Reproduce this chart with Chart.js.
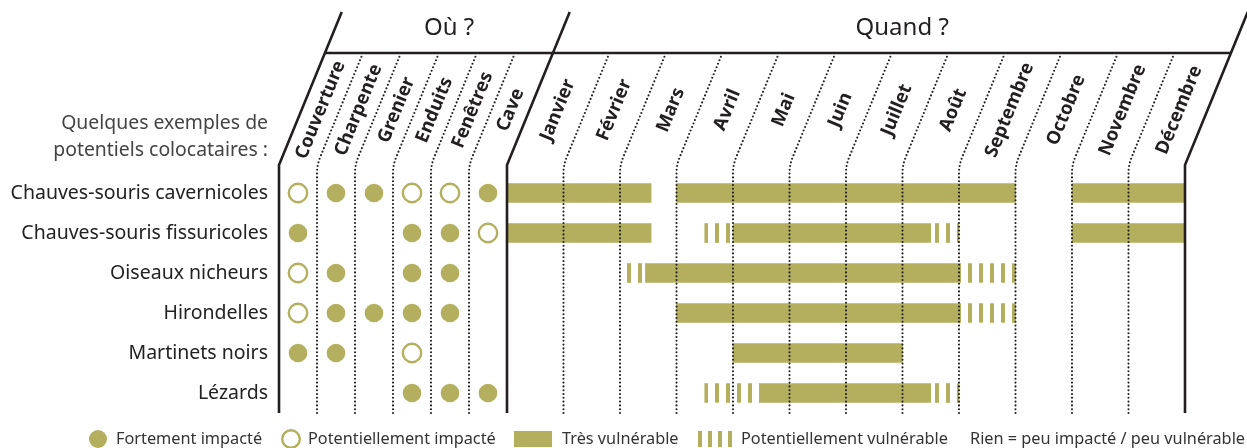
<!DOCTYPE html>
<html lang="fr">
<head>
  <meta charset="UTF-8">
  <title>Colocataires</title>
  <style>
    body { margin: 0; padding: 0; background: #fff; }
    .wrap { width: 1247px; height: 448px; position: relative; }
  </style>
</head>
<body>
  <div class="wrap"><canvas id="chart"></canvas></div>

  <script src="https://cdn.jsdelivr.net/npm/chart.js"></script>
  <script>
    // Data
    const species = ['Chauves-souris cavernicoles', 'Chauves-souris fissuricoles', 'Oiseaux nicheurs',
      'Hirondelles', 'Martinets noirs', 'Lézards'];
    const places = ['Couverture', 'Charpente', 'Grenier', 'Enduits', 'Fenêtres', 'Cave'];
    const months = ['Janvier', 'Février', 'Mars', 'Avril', 'Mai', 'Juin', 'Juillet', 'Août',
      'Septembre', 'Octobre', 'Novembre', 'Décembre'];

    // 2 = fortement impacté, 1 = potentiellement impacté, 0 = rien (one row per species)
    const impacts = [
      [1, 2, 2, 1, 1, 2],
      [2, 0, 0, 2, 2, 1],
      [1, 2, 0, 2, 2, 0],
      [1, 2, 2, 2, 2, 0],
      [2, 2, 0, 1, 0, 0],
      [0, 0, 0, 2, 2, 2]
    ];

    // periods in months (0 = start of January, 12 = end of December)
    const veryVulnerable = [
      [[0, 2.55], [3, 9], [10, 12]],
      [[0, 2.55], [4, 7.5], [10, 12]],
      [[2.45, 8]],
      [[3, 8]],
      [[4, 7]],
      [[4.47, 7.5]]
    ];
    const maybeVulnerable = [
      [],
      [[3.5, 4], [7.5, 8]],
      [[2, 2.45], [8, 9]],
      [[8, 9]],
      [],
      [[3.5, 4.47], [7.5, 8]]
    ];

    const legendLabels = ['Fortement impacté', 'Potentiellement impacté', 'Très vulnérable',
      'Potentiellement vulnérable', 'Rien = peu impacté / peu vulnérable'];

    // Look
    const OLIVE = '#b3af5e';
    const INK = '#231f20';
    const FONT = '"Noto Sans", sans-serif';
    const K = 0.41;          // slope of the header slants (dx per dy)
    const SLANT_Y = 165;     // where the vertical lines start to lean
    const TOP_Y = 12;
    const HEAD_Y = 53;
    const COL_W = 38, MONTH_W = 56.5;

    // stripes for "potentiellement vulnérable"
    function stripes() {
      const c = document.createElement('canvas');
      c.width = 11; c.height = 4;
      const g = c.getContext('2d');
      g.fillStyle = OLIVE;
      g.fillRect(0, 0, 4, 4);
      return g.createPattern(c, 'repeat');
    }

    const areaW = COL_W * places.length + MONTH_W * months.length;
    const whereMax = -0.5 + areaW / COL_W;
    const whenMin = -(COL_W * places.length) / MONTH_W;

    const strongData = veryVulnerable.flatMap((spans, i) => spans.map(s => ({ x: s, y: species[i] })));
    const maybeData = maybeVulnerable.flatMap((spans, i) => spans.map(s => ({ x: s, y: species[i] })));
    const fullDots = [], openDots = [];
    impacts.forEach((row, i) => row.forEach((v, j) => {
      if (v === 2) fullDots.push({ x: j, y: species[i] });
      if (v === 1) openDots.push({ x: j, y: species[i] });
    }));

    // grid, headers and legend
    const framePlugin = {
      id: 'frame',
      afterDatasetsDraw(chart) {
        const ctx = chart.ctx;
        const area = chart.chartArea;
        const xw = chart.scales.xWhere, xm = chart.scales.xWhen;
        const bottom = area.bottom;
        const placeEdges = places.map((p, j) => xw.getPixelForValue(j - 0.5)).concat(xw.getPixelForValue(places.length - 0.5));
        const monthEdges = months.map((m, k) => xm.getPixelForValue(k)).concat(xm.getPixelForValue(12));
        const lean = y => K * (SLANT_Y - y);

        ctx.save();
        // dotted separators (round dots)
        ctx.strokeStyle = INK;
        ctx.lineWidth = 2.1;
        ctx.lineCap = 'round';
        ctx.setLineDash([0, 3.8]);
        const inner = placeEdges.slice(1, -1).concat(monthEdges.slice(1, -1));
        inner.forEach(x => {
          ctx.beginPath();
          ctx.moveTo(x, bottom);
          ctx.lineTo(x, SLANT_Y + 8);
          ctx.quadraticCurveTo(x, SLANT_Y, x + lean(SLANT_Y - 8), SLANT_Y - 8);
          ctx.lineTo(x + lean(HEAD_Y + 3), HEAD_Y + 3);
          ctx.stroke();
        });
        ctx.setLineDash([]);
        ctx.lineCap = 'butt';

        // solid borders
        ctx.lineWidth = 2.6;
        const borders = [placeEdges[0], monthEdges[0], monthEdges[12]];
        borders.forEach(x => {
          ctx.beginPath();
          ctx.moveTo(x, bottom);
          ctx.lineTo(x, SLANT_Y);
          ctx.lineTo(x + lean(TOP_Y), TOP_Y);
          ctx.stroke();
        });
        ctx.beginPath();
        ctx.moveTo(borders[0] + lean(HEAD_Y), HEAD_Y);
        ctx.lineTo(borders[2] + lean(HEAD_Y), HEAD_Y);
        ctx.stroke();

        // section titles
        ctx.fillStyle = INK;
        ctx.font = '24px ' + FONT;
        ctx.textAlign = 'center';
        ctx.textBaseline = 'middle';
        ctx.fillText('Où ?', (borders[0] + borders[1]) / 2 + lean(28), 28);
        ctx.fillText('Quand ?', (borders[1] + borders[2]) / 2 + lean(28), 28);

        // rotated column labels
        const angle = Math.atan2(-1, K);
        const CY = 110;
        ctx.font = 'bold 18.5px ' + FONT;
        const colLabel = (text, xl, xr) => {
          ctx.save();
          ctx.translate((xl + xr) / 2 + lean(CY), CY);
          ctx.rotate(angle);
          ctx.fillText(text, 0, 0);
          ctx.restore();
        };
        places.forEach((p, j) => colLabel(p, placeEdges[j], placeEdges[j + 1]));
        months.forEach((m, k) => colLabel(m, monthEdges[k], monthEdges[k + 1]));

        // intro text above the species
        ctx.font = '19.4px ' + FONT;
        ctx.fillStyle = '#444';
        ctx.textAlign = 'right';
        ctx.fillText('Quelques exemples de', 268, 123);
        ctx.fillText('potentiels colocataires :', 268, 150);

        // legend
        const ly = 439;
        ctx.font = '16.3px ' + FONT;
        ctx.textAlign = 'left';
        ctx.fillStyle = OLIVE;
        ctx.beginPath(); ctx.arc(98, ly, 9, 0, Math.PI * 2); ctx.fill();
        ctx.strokeStyle = OLIVE; ctx.lineWidth = 2.4;
        ctx.beginPath(); ctx.arc(291, ly, 8.8, 0, Math.PI * 2); ctx.stroke();
        ctx.fillRect(514, ly - 8, 38, 16);
        for (let s = 0; s < 4; s++) ctx.fillRect(698 + s * 10, ly - 8, 4, 16);
        ctx.fillStyle = '#333';
        ctx.fillText(legendLabels[0], 116, ly);
        ctx.fillText(legendLabels[1], 308, ly);
        ctx.fillText(legendLabels[2], 562, ly);
        ctx.fillText(legendLabels[3], 741, ly);
        ctx.fillText(legendLabels[4], 970, ly);
        ctx.restore();
      }
    };

    new Chart(document.getElementById('chart'), {
      type: 'bar',
      data: {
        datasets: [
          {
            type: 'bar', indexAxis: 'y', xAxisID: 'xWhen', yAxisID: 'y',
            data: strongData, backgroundColor: OLIVE, borderWidth: 0,
            grouped: false, barThickness: 19
          },
          {
            type: 'bar', indexAxis: 'y', xAxisID: 'xWhen', yAxisID: 'y',
            data: maybeData, backgroundColor: stripes(), borderWidth: 0,
            grouped: false, barThickness: 19
          },
          {
            type: 'scatter', xAxisID: 'xWhere', yAxisID: 'y',
            data: fullDots, pointRadius: 9.3, backgroundColor: OLIVE, borderWidth: 0
          },
          {
            type: 'scatter', xAxisID: 'xWhere', yAxisID: 'y',
            data: openDots, pointRadius: 9.2, backgroundColor: '#fff', borderColor: OLIVE, borderWidth: 2.4
          }
        ]
      },
      options: {
        responsive: true,
        maintainAspectRatio: false,
        animation: false,
        layout: { padding: { left: 0, right: 62, top: 173, bottom: 35 } },
        plugins: { legend: { display: false }, tooltip: { enabled: false } },
        scales: {
          y: {
            type: 'category', labels: species, offset: true, position: 'left',
            grid: { display: false, drawTicks: false }, border: { display: false },
            ticks: { color: '#222', padding: 11, font: { family: FONT, size: 19.5 } },
            afterFit: s => { s.width = 279; }
          },
          xWhere: {
            type: 'linear', position: 'bottom', display: false, offset: false,
            grid: { offset: false }, min: -0.5, max: whereMax
          },
          xWhen: {
            type: 'linear', position: 'bottom', display: false, offset: false,
            grid: { offset: false }, min: whenMin, max: 12
          }
        }
      },
      plugins: [framePlugin]
    });
  </script>
</body>
</html>
